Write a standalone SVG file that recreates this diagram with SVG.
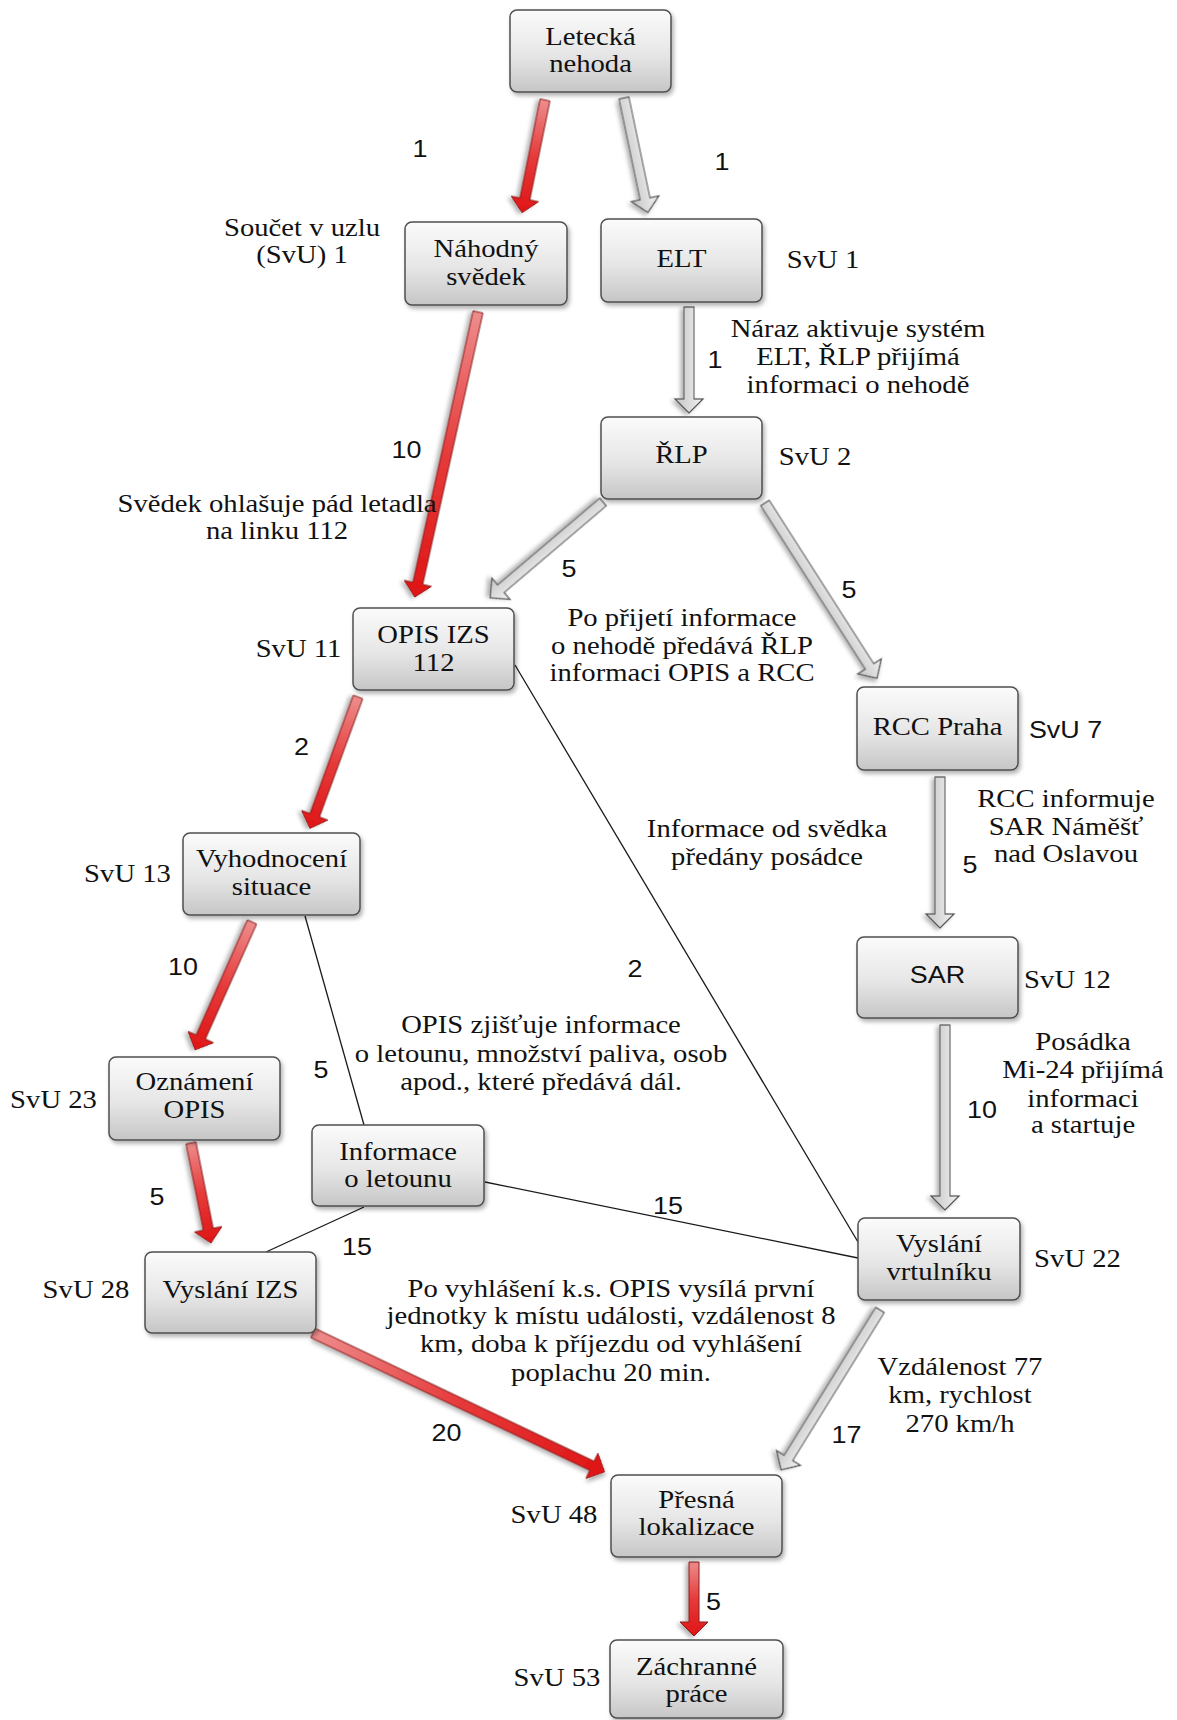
<svg xmlns="http://www.w3.org/2000/svg" width="1177" height="1720" viewBox="0 0 1177 1720">
<defs>
<linearGradient id="boxg" x1="0" y1="0" x2="0" y2="1">
<stop offset="0" stop-color="#fbfbfb"/>
<stop offset="0.55" stop-color="#e6e6e6"/>
<stop offset="1" stop-color="#c6c6c6"/>
</linearGradient>
<linearGradient id="redg" x1="0" y1="0" x2="1" y2="0">
<stop offset="0" stop-color="#ee8c8c"/>
<stop offset="0.5" stop-color="#e63a3a"/>
<stop offset="1" stop-color="#df1515"/>
</linearGradient>
<linearGradient id="grayg" x1="0" y1="0" x2="0" y2="1">
<stop offset="0" stop-color="#f2f2f2"/>
<stop offset="1" stop-color="#c4c4c4"/>
</linearGradient>
<filter id="sh" x="-20%" y="-20%" width="140%" height="140%">
<feDropShadow dx="2" dy="3" stdDeviation="2" flood-color="#000" flood-opacity="0.3"/>
</filter>
<style>
.box{fill:url(#boxg);stroke:#4f4f4f;stroke-width:1.5;filter:url(#sh)}
.ra{fill:url(#redg);stroke:#8a1f1f;stroke-width:1;filter:url(#sh)}
.ga{fill:url(#grayg);stroke:#555;stroke-width:1.2;filter:url(#sh)}
.ln{stroke:#1a1a1a;stroke-width:1.3;fill:none}
.t{font-family:"Liberation Serif","Times New Roman",serif;font-size:24.5px;fill:#111;text-anchor:middle}
.s{font-family:"Liberation Sans",Arial,sans-serif;font-size:23px;fill:#111;text-anchor:middle}
</style>
</defs>
<rect width="1177" height="1720" fill="#fff"/>

<g id="connectors">
<line class="ln" x1="515" y1="665" x2="858" y2="1242"/>
<line class="ln" x1="305" y1="916" x2="364" y2="1125"/>
<line class="ln" x1="364" y1="1207" x2="266" y2="1252"/>
<line class="ln" x1="485" y1="1182" x2="858" y2="1258"/>
<path class="ra" transform="translate(545 100) rotate(101.5)" d="M0,-5 H101 V-14 L115,0 L101,14 V5 H0 Z"/>
<path class="ga" transform="translate(624 98) rotate(78.2)" d="M0,-5 H103 V-14 L117,0 L103,14 V5 H0 Z"/>
<path class="ra" transform="translate(478 312) rotate(102.5)" d="M0,-5 H278 V-14 L292,0 L278,14 V5 H0 Z"/>
<path class="ga" transform="translate(689 307) rotate(90)" d="M0,-5 H92 V-14 L106,0 L92,14 V5 H0 Z"/>
<path class="ga" transform="translate(603 502) rotate(139.65)" d="M0,-5 H134 V-14 L148,0 L134,14 V5 H0 Z"/>
<path class="ga" transform="translate(765 503) rotate(57.4)" d="M0,-5 H194 V-14 L208,0 L194,14 V5 H0 Z"/>
<path class="ra" transform="translate(358 697) rotate(110.1)" d="M0,-5 H126 V-14 L140,0 L126,14 V5 H0 Z"/>
<path class="ga" transform="translate(940 777) rotate(90)" d="M0,-5 H137 V-14 L151,0 L137,14 V5 H0 Z"/>
<path class="ra" transform="translate(252 922) rotate(114)" d="M0,-5 H126 V-14 L140,0 L126,14 V5 H0 Z"/>
<path class="ga" transform="translate(945 1025) rotate(90)" d="M0,-5 H171 V-14 L185,0 L171,14 V5 H0 Z"/>
<path class="ra" transform="translate(191 1143) rotate(78.7)" d="M0,-5 H88 V-14 L102,0 L88,14 V5 H0 Z"/>
<path class="ra" transform="translate(313 1333) rotate(25.46)" d="M0,-5 H309 V-14 L323,0 L309,14 V5 H0 Z"/>
<path class="ga" transform="translate(880 1310) rotate(121.75)" d="M0,-5 H174 V-14 L188,0 L174,14 V5 H0 Z"/>
<path class="ra" transform="translate(694 1562) rotate(90)" d="M0,-5 H60 V-14 L74,0 L60,14 V5 H0 Z"/>
</g>

<g id="edge-labels">
<text class="s" transform="translate(420 0) scale(1.17 1)"><tspan x="0" y="157">1</tspan></text>
<text class="s" transform="translate(722 0) scale(1.17 1)"><tspan x="0" y="170">1</tspan></text>
<text class="s" transform="translate(715 0) scale(1.17 1)"><tspan x="0" y="368">1</tspan></text>
<text class="s" transform="translate(406.5 0) scale(1.17 1)"><tspan x="0" y="458">10</tspan></text>
<text class="s" transform="translate(569 0) scale(1.17 1)"><tspan x="0" y="577">5</tspan></text>
<text class="s" transform="translate(849 0) scale(1.17 1)"><tspan x="0" y="598">5</tspan></text>
<text class="s" transform="translate(301.5 0) scale(1.17 1)"><tspan x="0" y="755">2</tspan></text>
<text class="s" transform="translate(635 0) scale(1.17 1)"><tspan x="0" y="977">2</tspan></text>
<text class="s" transform="translate(970 0) scale(1.17 1)"><tspan x="0" y="873">5</tspan></text>
<text class="s" transform="translate(183 0) scale(1.17 1)"><tspan x="0" y="975">10</tspan></text>
<text class="s" transform="translate(321 0) scale(1.17 1)"><tspan x="0" y="1078">5</tspan></text>
<text class="s" transform="translate(982 0) scale(1.17 1)"><tspan x="0" y="1118">10</tspan></text>
<text class="s" transform="translate(157 0) scale(1.17 1)"><tspan x="0" y="1205">5</tspan></text>
<text class="s" transform="translate(357 0) scale(1.17 1)"><tspan x="0" y="1255">15</tspan></text>
<text class="s" transform="translate(668 0) scale(1.17 1)"><tspan x="0" y="1214">15</tspan></text>
<text class="s" transform="translate(446.5 0) scale(1.17 1)"><tspan x="0" y="1441">20</tspan></text>
<text class="s" transform="translate(846.5 0) scale(1.17 1)"><tspan x="0" y="1443">17</tspan></text>
<text class="s" transform="translate(713.5 0) scale(1.17 1)"><tspan x="0" y="1610">5</tspan></text>
</g>

<g id="notes">
<text class="t" transform="translate(302 0) scale(1.17 1)"><tspan x="0" y="236">Součet v uzlu</tspan><tspan x="0" y="263">(SvU) 1</tspan></text>
<text class="t" transform="translate(858 0) scale(1.17 1)"><tspan x="0" y="337">Náraz aktivuje systém</tspan><tspan x="0" y="365">ELT, ŘLP přijímá</tspan><tspan x="0" y="393">informaci o nehodě</tspan></text>
<text class="t" transform="translate(277 0) scale(1.17 1)"><tspan x="0" y="512">Svědek ohlašuje pád letadla</tspan><tspan x="0" y="539">na linku 112</tspan></text>
<text class="t" transform="translate(682 0) scale(1.17 1)"><tspan x="0" y="626">Po přijetí informace</tspan><tspan x="0" y="654">o nehodě předává ŘLP</tspan><tspan x="0" y="681">informaci OPIS a RCC</tspan></text>
<text class="t" transform="translate(1066 0) scale(1.17 1)"><tspan x="0" y="807">RCC informuje</tspan><tspan x="0" y="835">SAR Náměšť</tspan><tspan x="0" y="862">nad Oslavou</tspan></text>
<text class="t" transform="translate(767 0) scale(1.17 1)"><tspan x="0" y="837">Informace od svědka</tspan><tspan x="0" y="865">předány posádce</tspan></text>
<text class="t" transform="translate(541 0) scale(1.17 1)"><tspan x="0" y="1033">OPIS zjišťuje informace</tspan><tspan x="0" y="1062">o letounu, množství paliva, osob</tspan><tspan x="0" y="1090">apod., které předává dál.</tspan></text>
<text class="t" transform="translate(1083 0) scale(1.17 1)"><tspan x="0" y="1050">Posádka</tspan><tspan x="0" y="1078">Mi-24 přijímá</tspan><tspan x="0" y="1107">informaci</tspan><tspan x="0" y="1133">a startuje</tspan></text>
<text class="t" transform="translate(611 0) scale(1.17 1)"><tspan x="0" y="1297">Po vyhlášení k.s. OPIS vysílá první</tspan><tspan x="0" y="1324">jednotky k místu události, vzdálenost 8</tspan><tspan x="0" y="1352">km, doba k příjezdu od vyhlášení</tspan><tspan x="0" y="1381">poplachu 20 min.</tspan></text>
<text class="t" transform="translate(960 0) scale(1.17 1)"><tspan x="0" y="1375">Vzdálenost 77</tspan><tspan x="0" y="1403">km, rychlost</tspan><tspan x="0" y="1432">270 km/h</tspan></text>
<text class="t" transform="translate(823 0) scale(1.17 1)"><tspan x="0" y="268">SvU 1</tspan></text>
<text class="t" transform="translate(815 0) scale(1.17 1)"><tspan x="0" y="465">SvU 2</tspan></text>
<text class="t" transform="translate(298.5 0) scale(1.17 1)"><tspan x="0" y="657">SvU 11</tspan></text>
<text class="s" transform="translate(1065.5 0) scale(1.17 1)"><tspan x="0" y="738">SvU 7</tspan></text>
<text class="t" transform="translate(127.5 0) scale(1.17 1)"><tspan x="0" y="882">SvU 13</tspan></text>
<text class="t" transform="translate(1067.5 0) scale(1.17 1)"><tspan x="0" y="988">SvU 12</tspan></text>
<text class="t" transform="translate(53.5 0) scale(1.17 1)"><tspan x="0" y="1108">SvU 23</tspan></text>
<text class="t" transform="translate(1077.5 0) scale(1.17 1)"><tspan x="0" y="1267">SvU 22</tspan></text>
<text class="t" transform="translate(86 0) scale(1.17 1)"><tspan x="0" y="1298">SvU 28</tspan></text>
<text class="t" transform="translate(554 0) scale(1.17 1)"><tspan x="0" y="1523">SvU 48</tspan></text>
<text class="t" transform="translate(557 0) scale(1.17 1)"><tspan x="0" y="1686">SvU 53</tspan></text>
</g>

<g id="n-letecka"><rect class="box" x="510" y="10" width="161" height="82" rx="7"/>
<text class="t" transform="translate(590.5 0) scale(1.17 1)"><tspan x="0" y="45">Letecká</tspan><tspan x="0" y="72">nehoda</tspan></text></g>
<g id="n-svedek"><rect class="box" x="405" y="222" width="162" height="83" rx="7"/>
<text class="t" transform="translate(486 0) scale(1.17 1)"><tspan x="0" y="257">Náhodný</tspan><tspan x="0" y="285">svědek</tspan></text></g>
<g id="n-elt"><rect class="box" x="601" y="219" width="161" height="83" rx="7"/>
<text class="t" transform="translate(681.5 0) scale(1.17 1)"><tspan x="0" y="267">ELT</tspan></text></g>
<g id="n-rlp"><rect class="box" x="601" y="417" width="161" height="82" rx="7"/>
<text class="t" transform="translate(681.5 0) scale(1.17 1)"><tspan x="0" y="463">ŘLP</tspan></text></g>
<g id="n-opis"><rect class="box" x="353" y="608" width="161" height="82" rx="7"/>
<text class="t" transform="translate(433.5 0) scale(1.17 1)"><tspan x="0" y="643">OPIS IZS</tspan><tspan x="0" y="671">112</tspan></text></g>
<g id="n-rcc"><rect class="box" x="857" y="687" width="161" height="83" rx="7"/>
<text class="t" transform="translate(937.5 0) scale(1.17 1)"><tspan x="0" y="735">RCC Praha</tspan></text></g>
<g id="n-vyhodnoceni"><rect class="box" x="183" y="833" width="177" height="82" rx="7"/>
<text class="t" transform="translate(271.5 0) scale(1.17 1)"><tspan x="0" y="867">Vyhodnocení</tspan><tspan x="0" y="895">situace</tspan></text></g>
<g id="n-sar"><rect class="box" x="857" y="937" width="161" height="81" rx="7"/>
<text class="s" transform="translate(937.5 0) scale(1.17 1)"><tspan x="0" y="983">SAR</tspan></text></g>
<g id="n-oznameni"><rect class="box" x="109" y="1057" width="171" height="83" rx="7"/>
<text class="t" transform="translate(194.5 0) scale(1.17 1)"><tspan x="0" y="1090">Oznámení</tspan><tspan x="0" y="1118">OPIS</tspan></text></g>
<g id="n-informace"><rect class="box" x="312" y="1125" width="172" height="81" rx="7"/>
<text class="t" transform="translate(398 0) scale(1.17 1)"><tspan x="0" y="1160">Informace</tspan><tspan x="0" y="1187">o letounu</tspan></text></g>
<g id="n-vyslani-izs"><rect class="box" x="145" y="1252" width="171" height="81" rx="7"/>
<text class="t" transform="translate(230.5 0) scale(1.17 1)"><tspan x="0" y="1298">Vyslání IZS</tspan></text></g>
<g id="n-vyslani-vrtulniku"><rect class="box" x="858" y="1218" width="162" height="82" rx="7"/>
<text class="t" transform="translate(939 0) scale(1.17 1)"><tspan x="0" y="1252">Vyslání</tspan><tspan x="0" y="1280">vrtulníku</tspan></text></g>
<g id="n-presna"><rect class="box" x="611" y="1475" width="171" height="82" rx="7"/>
<text class="t" transform="translate(696.5 0) scale(1.17 1)"><tspan x="0" y="1508">Přesná</tspan><tspan x="0" y="1535">lokalizace</tspan></text></g>
<g id="n-zachranne"><rect class="box" x="610" y="1640" width="173" height="78" rx="7"/>
<text class="t" transform="translate(696.5 0) scale(1.17 1)"><tspan x="0" y="1675">Záchranné</tspan><tspan x="0" y="1702">práce</tspan></text></g>
</svg>
